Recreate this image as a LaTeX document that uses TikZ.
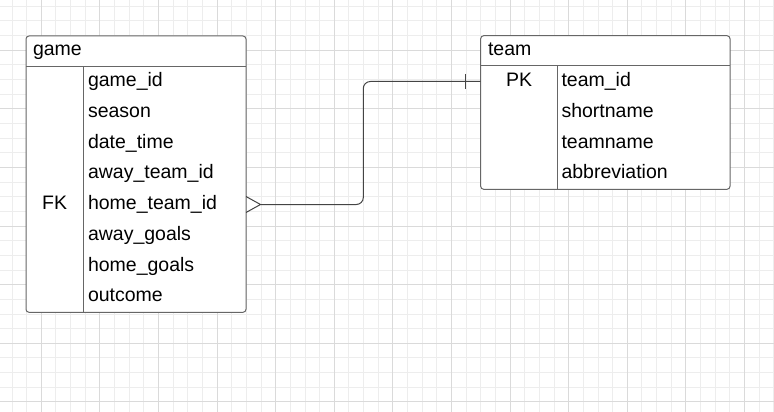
\documentclass[tikz,border=0pt]{standalone}
\usepackage{fontspec}
\setmainfont{Liberation Sans}
\definecolor{gridminor}{HTML}{EDEDED}
\definecolor{gridmajor}{HTML}{DADADA}
\definecolor{boxline}{HTML}{666666}
\definecolor{relline}{HTML}{444444}

\begin{document}
\begin{tikzpicture}[x=1pt,y=-1pt,line width=1pt,node distance=30.75pt]
  \tikzstyle{every node}=[inner sep=0pt,outer sep=0pt,font=\fontsize{19.5}{23}\selectfont]
  \tikzstyle{tablebox}=[draw=boxline,fill=white,rounded corners=3pt,anchor=north west]
  \tikzstyle{tabletitle}=[anchor=base west]
  \tikzstyle{fieldcell}=[text width=150pt,align=left,text height=14pt,text depth=4pt]
  \tikzstyle{keycell}=[text height=14pt,text depth=4pt]
  \tikzstyle{relation}=[draw=relline]

  \fill[white] (0,0) rectangle (774,412);
  \useasboundingbox (0,0) rectangle (774,412);
  \foreach \x in {12,26.65,...,774} \draw[gridminor] (\x,0) -- (\x,412);
  \foreach \y in {6.35,21,...,412} \draw[gridminor] (0,\y) -- (774,\y);
  \foreach \x in {41.3,99.9,...,774} \draw[gridmajor] (\x,0) -- (\x,412);
  \foreach \y in {50.3,108.9,...,412} \draw[gridmajor] (0,\y) -- (774,\y);

  \node[tablebox,minimum width=220pt,minimum height=276.3pt] (gamebox) at (26,36) {};
  \draw[boxline] (26,66.3) -- (246,66.3) (83.3,66.3) -- (83.3,312.3);
  \node[tabletitle] (game) at (33,56) {game};
  \node[fieldcell] (gameid)                        at (163,81.5) {game\_id};
  \node[fieldcell] (season)     [below of=gameid]     {season};
  \node[fieldcell] (datetime)   [below of=season]     {date\_time};
  \node[fieldcell] (awayteamid) [below of=datetime]   {away\_team\_id};
  \node[fieldcell] (hometeamid) [below of=awayteamid] {home\_team\_id};
  \node[fieldcell] (awaygoals)  [below of=hometeamid] {away\_goals};
  \node[fieldcell] (homegoals)  [below of=awaygoals]  {home\_goals};
  \node[fieldcell] (outcome)    [below of=homegoals]  {outcome};
  \node[keycell] (fk) [left of=hometeamid,node distance=108.3pt] {FK};

  \node[tablebox,minimum width=249.3pt,minimum height=153.6pt] (teambox) at (480.7,35.7) {};
  \draw[boxline] (480.7,66) -- (730,66) (557.7,66) -- (557.7,189.3);
  \node[tabletitle] (team) at (488,56) {team};
  \node[fieldcell] (teamid)                         at (636.5,81.5) {team\_id};
  \node[fieldcell] (shortname)    [below of=teamid]    {shortname};
  \node[fieldcell] (teamname)     [below of=shortname] {teamname};
  \node[fieldcell] (abbreviation) [below of=teamname]  {abbreviation};
  \node[keycell] (pk) [left of=teamid,node distance=117.3pt] {PK};

  \coordinate (bend) at (363.3,0);
  \path (hometeamid -| gamebox.east) coordinate (fkend)
        (teamid -| teambox.west) coordinate (pkend);
  \coordinate (fkfoot) at ([xshift=14.5pt]fkend);
  \draw[relation,rounded corners=7pt] (fkfoot) -- (bend |- fkfoot) -- (bend |- pkend) -- (pkend);
  \draw[relation] (fkend) ++(0,-8) -- (fkfoot) -- ++(-14.5,8);
  \draw[relation] (pkend) ++(-15,-7.5) -- ++(0,15);
\end{tikzpicture}
\end{document}
